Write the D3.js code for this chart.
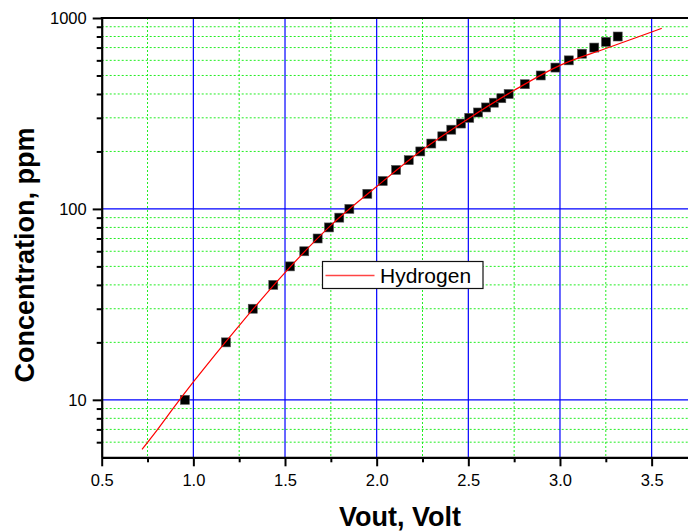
<!DOCTYPE html>
<html>
<head>
<meta charset="utf-8">
<script src="https://cdn.jsdelivr.net/npm/d3@7"></script>
<style>
  body { margin: 0; background: #fff; }
  svg { display: block; font-family: "Liberation Sans", Arial, sans-serif; }
</style>
</head>
<body>
<svg width="688" height="531"></svg>
<script>
// measured points (Vout, ppm)
var voltage = [0.954, 1.178, 1.324, 1.436, 1.527, 1.605, 1.678, 1.740, 1.796, 1.851,
  1.949, 2.033, 2.106, 2.175, 2.238, 2.298, 2.358, 2.407, 2.460, 2.505,
  2.553, 2.597, 2.639, 2.680, 2.720, 2.808, 2.895, 2.975, 3.048, 3.120,
  3.187, 3.251, 3.315];
var conc = [10, 20, 30, 40, 50, 60, 70, 80, 90, 100,
  120, 140, 160, 180, 200, 220, 240, 260, 280, 300,
  320, 340, 360, 380, 400, 450, 500, 550, 600, 650,
  700, 750, 800];

// fitted curve
var fitX = [0.72, 0.8, 0.9, 1.0, 1.25, 1.5, 1.75, 2.0, 2.25, 2.5, 2.75, 3.0, 3.25, 3.5, 3.555];
var fitY = [5.5, 6.9, 9.3, 12.4, 24.5, 46.4, 82, 131, 204, 297, 418, 565, 692, 845, 883];

var xMajor = [0.5, 1.0, 1.5, 2.0, 2.5, 3.0, 3.5];
var xMinor = [0.75, 1.25, 1.75, 2.25, 2.75, 3.25];
var yMajor = [10, 100, 1000];
var yMinor = [6, 7, 8, 9, 20, 30, 40, 50, 60, 70, 80, 90, 200, 300, 400, 500, 600, 700, 800, 900];

var seriesName = "Hydrogen";

var svg = d3.select("svg");
var pL = 101.7, pR = 688.3, pT = 18, pB = 457.3;

var x = d3.scaleLinear().domain([0.5, 3.7]).range([pL, pR]);
var y = d3.scaleLog().domain([5, 1000]).range([pB, pT]);

// grid
var grid = svg.append("g");
grid.selectAll(".gxm").data(xMinor).enter().append("line")
  .attr("x1", d => x(d)).attr("x2", d => x(d))
  .attr("y1", pT).attr("y2", pB)
  .attr("stroke", "#22ee22").attr("stroke-width", 1)
  .attr("stroke-dasharray", "2,2");
grid.selectAll(".gym").data(yMinor).enter().append("line")
  .attr("x1", pL).attr("x2", pR)
  .attr("y1", d => y(d)).attr("y2", d => y(d))
  .attr("stroke", "#22ee22").attr("stroke-width", 1)
  .attr("stroke-dasharray", "2,2");
grid.selectAll(".gx").data(xMajor.slice(1)).enter().append("line")
  .attr("x1", d => x(d)).attr("x2", d => x(d))
  .attr("y1", pT).attr("y2", pB)
  .attr("stroke", "#0000ff").attr("stroke-width", 1.2);
grid.selectAll(".gy").data(yMajor.slice(0, 2)).enter().append("line")
  .attr("x1", pL).attr("x2", pR)
  .attr("y1", d => y(d)).attr("y2", d => y(d))
  .attr("stroke", "#0000ff").attr("stroke-width", 1.2);

// axes
svg.append("g")
  .attr("transform", "translate(0," + pB + ")")
  .call(d3.axisBottom(x).tickValues(xMajor).tickFormat(d3.format(".1f"))
    .tickSize(9).tickSizeOuter(0).tickPadding(8));
svg.append("g")
  .attr("transform", "translate(0," + pB + ")")
  .call(d3.axisBottom(x).tickValues(xMinor).tickFormat("").tickSize(5).tickSizeOuter(0))
  .select(".domain").remove();

svg.append("g")
  .attr("transform", "translate(" + pL + ",0)")
  .call(d3.axisLeft(y).tickValues(yMajor).tickFormat(d3.format("d"))
    .tickSize(9).tickSizeOuter(0).tickPadding(6));
svg.append("g")
  .attr("transform", "translate(" + pL + ",0)")
  .call(d3.axisLeft(y).tickValues(yMinor).tickFormat("").tickSize(5).tickSizeOuter(0))
  .select(".domain").remove();

svg.selectAll(".tick line").attr("stroke", "#000").attr("stroke-width", 2);
svg.selectAll(".domain").attr("stroke", "#000").attr("stroke-width", 2.2);
svg.selectAll(".tick text").attr("font-size", "16.5px").attr("fill", "#000")
  .attr("font-family", "'Liberation Sans', Arial, sans-serif");

// top frame
svg.append("line")
  .attr("x1", pL - 1).attr("x2", pR)
  .attr("y1", pT).attr("y2", pT)
  .attr("stroke", "#000").attr("stroke-width", 2.2);

// markers
svg.append("g").selectAll("rect")
  .data(voltage.map((v, i) => ({ v: v, c: conc[i] })))
  .enter().append("rect")
  .attr("x", d => x(d.v) - 4.5)
  .attr("y", d => y(d.c) - 4.5)
  .attr("width", 9).attr("height", 9)
  .attr("fill", "#000")
  .attr("stroke", "#555").attr("stroke-width", 0.6);

// fit line
var line = d3.line()
  .x(d => x(d[0]))
  .y(d => y(d[1]))
  .curve(d3.curveMonotoneX);
svg.append("path")
  .datum(fitX.map((v, i) => [v, fitY[i]]))
  .attr("d", line)
  .attr("fill", "none")
  .attr("stroke", "#ff0000")
  .attr("stroke-width", 1.2);

// legend
var lg = svg.append("g").attr("transform", "translate(322.5,261.5)");
lg.append("rect").attr("width", 160.5).attr("height", 27)
  .attr("fill", "#fff").attr("stroke", "#111").attr("stroke-width", 1.2);
lg.append("line").attr("x1", 3).attr("x2", 52).attr("y1", 14).attr("y2", 14)
  .attr("stroke", "#ff4444").attr("stroke-width", 1.5);
lg.append("text").attr("x", 57.5).attr("y", 21)
  .attr("font-size", "21px").attr("fill", "#000")
  .text(seriesName);

// axis titles
svg.append("text")
  .attr("x", 400).attr("y", 526)
  .attr("text-anchor", "middle")
  .attr("font-size", "27px").attr("font-weight", "bold")
  .text("Vout, Volt");
svg.append("text")
  .attr("transform", "translate(33.5,255) rotate(-90)")
  .attr("text-anchor", "middle")
  .attr("font-size", "27px").attr("font-weight", "bold")
  .text("Concentration, ppm");
</script>
</body>
</html>
